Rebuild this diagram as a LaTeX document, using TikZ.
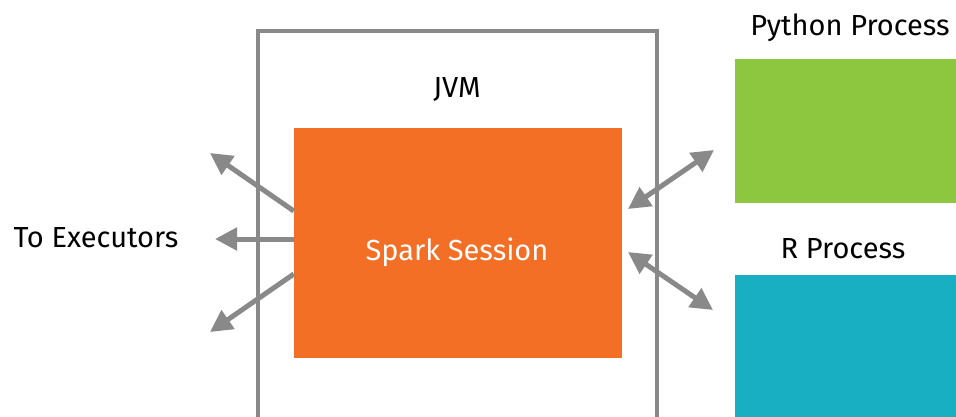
\documentclass[tikz,border=0pt]{standalone}
\usepackage{fontspec}
\setmainfont{Fira Sans}
\usetikzlibrary{arrows.meta}
\definecolor{jgray}{HTML}{898989}
\definecolor{sorange}{HTML}{F36F26}
\definecolor{pgreen}{HTML}{8DC63F}
\definecolor{rteal}{HTML}{17AFC1}
\tikzset{
  lbl/.style={font=\fontsize{29}{34}\selectfont, inner sep=0pt, anchor=base},
  conn/.style={draw=jgray, line width=5pt, -{Triangle[length=22pt,width=22pt]}},
  biconn/.style={draw=jgray, line width=5pt, {Triangle[length=22pt,width=22pt]}-{Triangle[length=22pt,width=22pt]}},
}
\begin{document}
\begin{tikzpicture}[x=1pt,y=-1pt]
\useasboundingbox (0,0) rectangle (956,416);
\fill[white] (0,0) rectangle (956,416);
% JVM frame (open at bottom)
\draw[jgray, line width=4pt] (258,418) -- (258,31) -- (657,31) -- (657,418);
\node[lbl] (jvm) at (457,97) {JVM};
% Spark session
\node[fill=sorange, minimum width=328pt, minimum height=230pt, inner sep=0pt] (spark) at (458,243) {};
\node[lbl, text=white] (spt) at (457,260) {Spark Session};
% processes
\node[fill=pgreen, minimum width=225pt, minimum height=144pt, inner sep=0pt, anchor=north west] (py) at (735,59) {};
\node[fill=rteal, minimum width=225pt, minimum height=145pt, inner sep=0pt, anchor=north west] (rp) at (735,275) {};
\node[lbl] (pyt) at (850,35) {Python Process};
\node[lbl] (rpt) at (843,258) {R Process};
\node[lbl] (exe) at (96,247) {To Executors};
% executor arrows
\coordinate (e1) at (210,153);
\coordinate (e2) at (215,239);
\coordinate (e3) at (210,332);
\draw[conn] ([yshift=32pt]spark.west) -- (e1);
\draw[conn] ([yshift=4pt]spark.west) -- (e2);
\draw[conn] ([yshift=-31pt]spark.west) -- (e3);
% process arrows
\coordinate (a1) at (628,209);
\coordinate (b1) at (714,150);
\coordinate (a2) at (628,252);
\coordinate (b2) at (713,310);
\draw[biconn] (a1) -- (b1);
\draw[biconn] (a2) -- (b2);
\end{tikzpicture}
\end{document}
